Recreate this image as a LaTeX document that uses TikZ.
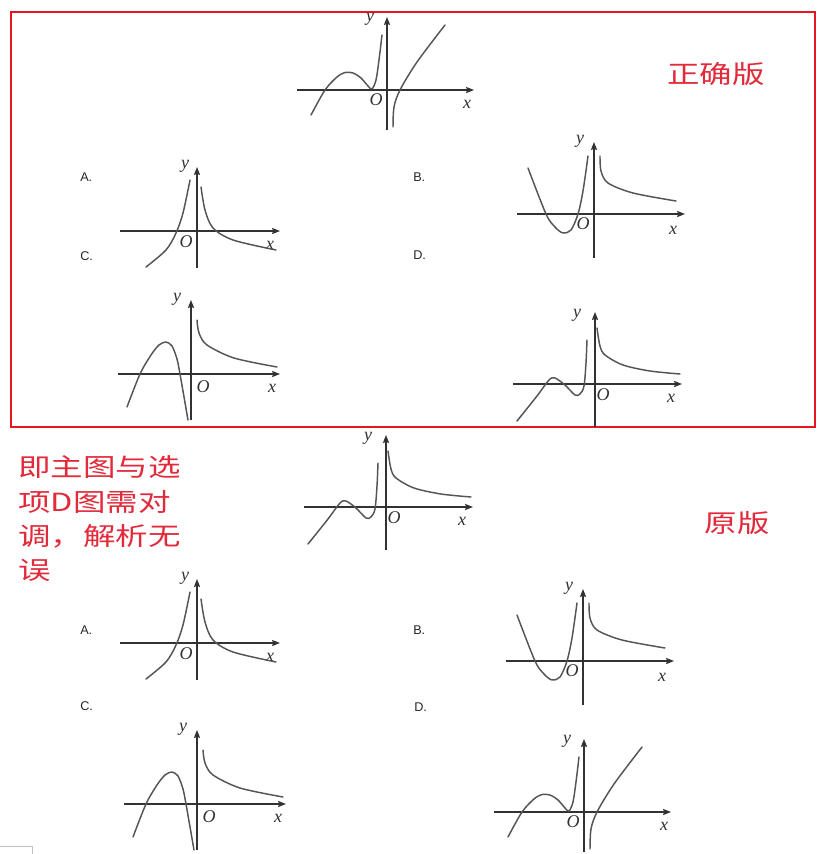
\documentclass[tikz,border=0pt]{standalone}
\usepackage{fontspec}
\usepackage{graphicx}
\usetikzlibrary{arrows.meta}
\newfontfamily\cjk{Noto Sans CJK SC}
\newfontfamily\labserif{Liberation Serif}
\newfontfamily\labsans{Liberation Sans}
\definecolor{boxred}{RGB}{230,22,28}
\definecolor{txtred}{RGB}{226,42,58}
\definecolor{axgray}{RGB}{50,50,50}
\definecolor{cvgray}{RGB}{85,85,85}
\tikzset{
  axisline/.style={draw=axgray,line width=1.1pt,-{Stealth[length=6pt,width=4.6pt,inset=1pt]}},
  curveline/.style={draw=cvgray,line width=1.1pt,line cap=round,line join=round},
  lab/.style={inner sep=0pt,text=axgray,font={\labserif\itshape\fontsize{13.5pt}{14pt}\selectfont}},
  optlab/.style={inner sep=0pt,text=black!85,font={\labsans\fontsize{9.5pt}{10pt}\selectfont}},
  redtext/.style={inner sep=0pt,text=txtred,font={\cjk\fontsize{18.75pt}{20pt}\selectfont}}
}
% main shape (correct main graph / original D)
\newcommand\gM[2]{%
\begin{scope}[shift={#1}]
\draw[axisline] (-90,0) -- (87,0);
\draw[axisline] (0,40) -- (0,-73);
\node[lab] (#2y) at (-17,-71) {y};
\node[lab] (#2O) at (-11,10) {O};
\node[lab] (#2x) at (80,14) {x};
\draw[curveline] plot[smooth,tension=0.5] coordinates {(-76,25) (-62,0) (-50,-13) (-42,-17.5) (-34,-17) (-26,-12) (-19,-4) (-15,-1) (-11,-10) (-8,-30) (-5,-55)};
\draw[curveline] plot[smooth,tension=0.5] coordinates {(6,37) (7,17) (13,0) (30,-28) (58,-65)};
\end{scope}}
% shape D (correct D / original main)
\newcommand\gD[2]{%
\begin{scope}[shift={#1}]
\draw[axisline] (-82,0) -- (87,0);
\draw[axisline] (0,43) -- (0,-72);
\node[lab] (#2y) at (-18,-69) {y};
\node[lab] (#2O) at (8,11) {O};
\node[lab] (#2x) at (76,14) {x};
\draw[curveline] plot[smooth,tension=0.5] coordinates {(-78,37) (-58,12) (-46,-4) (-40,-6) (-30,1) (-20,11) (-15,10) (-11,2) (-9,-21) (-8,-44)};
\draw[curveline] plot[smooth,tension=0.5] coordinates {(2,-56) (5,-38) (10,-29) (28,-19) (55,-13) (85,-10)};
\end{scope}}
% shape A
\newcommand\gA[2]{%
\begin{scope}[shift={#1}]
\draw[axisline] (-77,0) -- (83,0);
\draw[axisline] (0,37) -- (0,-64);
\node[lab] (#2y) at (-12,-65) {y};
\node[lab] (#2O) at (-11,11) {O};
\node[lab] (#2x) at (73,14) {x};
\draw[curveline] plot[smooth,tension=0.5] coordinates {(-51,36) (-31,19) (-21,2) (-14,-18) (-7,-51)};
\draw[curveline] plot[smooth,tension=0.5] coordinates {(4,-44) (8,-21) (16,-3) (36,9) (79,19)};
\end{scope}}
% shape B
\newcommand\gB[2]{%
\begin{scope}[shift={#1}]
\draw[axisline] (-77,0) -- (91,0);
\draw[axisline] (0,44) -- (0,-72);
\node[lab] (#2y) at (-14,-73) {y};
\node[lab] (#2O) at (-11,10) {O};
\node[lab] (#2x) at (79,16) {x};
\draw[curveline] plot[smooth,tension=0.5] coordinates {(-66,-46) (-48,0) (-39,13) (-31,19) (-23,16) (-16,0) (-11,-23) (-6,-58)};
\draw[curveline] plot[smooth,tension=0.5] coordinates {(6,-58) (7,-43) (14,-31) (39,-21) (82,-13)};
\end{scope}}
% shape C
\newcommand\gC[2]{%
\begin{scope}[shift={#1}]
\draw[axisline] (-73,0) -- (89,0);
\draw[axisline] (0,46) -- (0,-74);
\node[lab] (#2y) at (-14,-75) {y};
\node[lab] (#2O) at (12,13) {O};
\node[lab] (#2x) at (81,14) {x};
\draw[curveline] plot[smooth,tension=0.5] coordinates {(-64,33) (-51,0) (-40,-19) (-32,-29) (-25,-32) (-19,-28) (-14,-15) (-11,0) (-3,46)};
\draw[curveline] plot[smooth,tension=0.5] coordinates {(6,-54) (8,-41) (16,-29) (43,-16) (86,-7)};
\end{scope}}
\begin{document}
\begin{tikzpicture}[x=0.75pt,y=-0.75pt]
\useasboundingbox (0,0) rectangle (817,854);
\fill[white] (0,0) rectangle (817,854);
% red frame
\draw[boxred,line width=2pt] (11,12) rectangle (815,427);
% correct version
\gM{(387,90)}{cm}
\gA{(197,231)}{ca}
\gB{(594,214)}{cb}
\gC{(191,374)}{cc}
\gD{(595,384)}{cd}
\node[optlab,anchor=west] (cA) at (80,177) {A.};
\node[optlab,anchor=west] (cB) at (413,177) {B.};
\node[optlab,anchor=west] (cC) at (80,256) {C.};
\node[optlab,anchor=west] (cD) at (413,255) {D.};
\node[redtext] (t1) at (716,74) {\scalebox{1.3}[1]{正确版}};
% note
\node[redtext,anchor=west] (n1) at (18,467) {\scalebox{1.3}[1]{即主图与选}};
\node[redtext,anchor=west] (n2) at (18,502) {\scalebox{1.3}[1]{项D图需对}};
\node[redtext,anchor=west] (n3) at (18,536) {\scalebox{1.3}[1]{调，解析无}};
\node[redtext,anchor=west] (n4) at (18,570) {\scalebox{1.3}[1]{误}};
% original version
\gD{(386,507)}{om}
\gA{(197,643)}{oa}
\gB{(583,661)}{ob}
\gC{(197,804)}{oc}
\gM{(584,812)}{od}
\node[optlab,anchor=west] (oA) at (80,630) {A.};
\node[optlab,anchor=west] (oB) at (413,630) {B.};
\node[optlab,anchor=west] (oC) at (80,706) {C.};
\node[optlab,anchor=west] (oD) at (414,707) {D.};
\node[redtext] (t2) at (737,523) {\scalebox{1.3}[1]{原版}};
% corner artifact
\draw[black!25,line width=0.6pt] (0,846) -- (32,846) -- (32,854);
\end{tikzpicture}
\end{document}
